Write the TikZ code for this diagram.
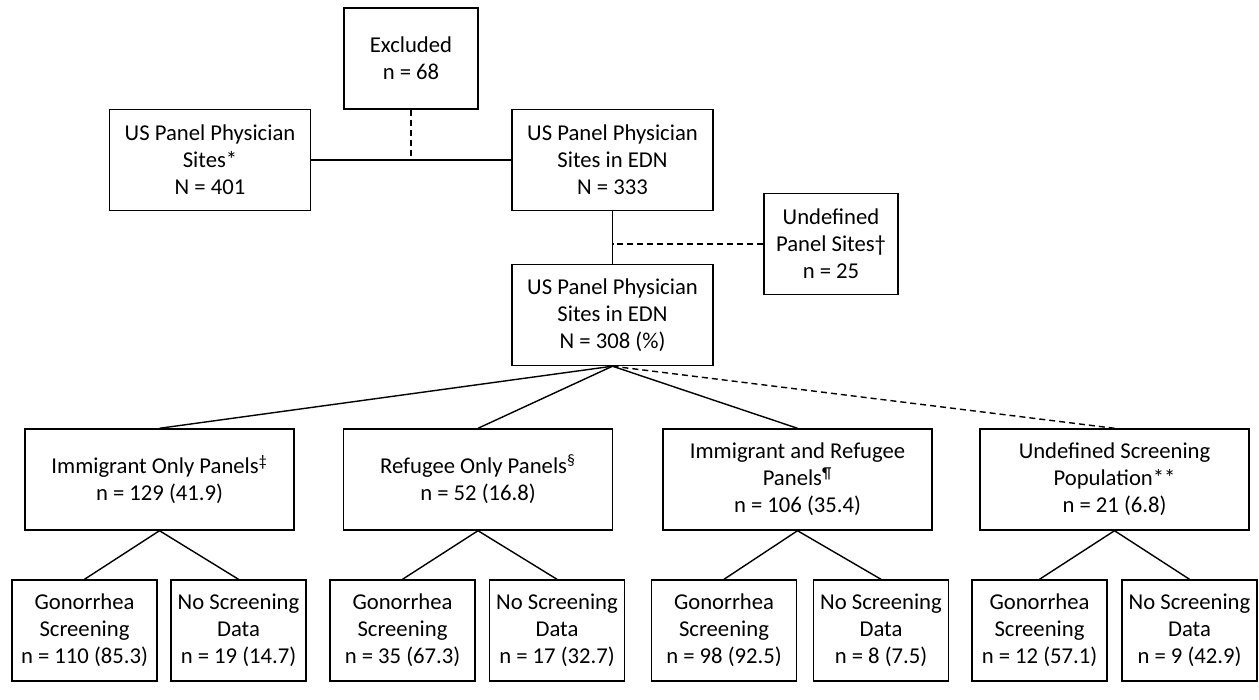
\documentclass[tikz,border=0pt]{standalone}
\usepackage{fontspec}
\setmainfont{Carlito}
\usetikzlibrary{calc}

\begin{document}
\begin{tikzpicture}[x=0.2mm,y=-0.2mm]
  % Estilos para las cajas y las lineas
    \tikzstyle{box} = [draw, line width=0.8pt, align=center, inner sep=2pt, minimum height=20.2mm, font=\fontsize{12.9pt}{15.4pt}\selectfont];
  \tikzstyle{topbox} = [box, minimum width=40.2mm];
  \tikzstyle{sidebox} = [box, minimum width=26.8mm];
  \tikzstyle{groupbox} = [box, minimum width=53.8mm];
  \tikzstyle{leafwide} = [box, minimum width=29mm];
  \tikzstyle{leafnarrow} = [box, minimum width=27mm];
  \tikzstyle{link} = [line width=0.8pt];
  \tikzstyle{droplink} = [line width=0.8pt, dash pattern=on 1.2mm off 0.8mm];

  \useasboundingbox (0,0) rectangle (1259,700);

  % Cajas de arriba
    \node [sidebox] (excl) at (411,58.5) {Excluded\\n = 68};
  \node [topbox] (sites) at (210,160) {US Panel Physician\\Sites*\\N = 401};
  \node [topbox] (edn) at (612.5,160) {US Panel Physician\\Sites in EDN\\N = 333};
  \node [sidebox] (undef) at (831,244) {Undefined\\Panel Sites†\\n = 25};
  \node [topbox] (ednall) at (612.5,315) {US Panel Physician\\Sites in EDN\\N = 308 (\%)};

  % Grupos de paneles
    \node [groupbox] (immig) at (159.5,479.5) {Immigrant Only Panels\textsuperscript{‡}\\n = 129 (41.9)};
  \node [groupbox] (refug) at (478,479.5) {Refugee Only Panels\textsuperscript{§}\\n = 52 (16.8)};
  \node [groupbox] (both) at (797.5,479.5) {Immigrant and Refugee\\Panels\textsuperscript{¶}\\n = 106 (35.4)};
  \node [groupbox] (unscr) at (1114.5,479.5) {Undefined Screening\\Population**\\n = 21 (6.8)};

  % Cajas de cribado
    \node [leafwide] (immigG) at (84.5,630.5) {Gonorrhea\\Screening\\n = 110 (85.3)};
  \node [leafnarrow] (immigN) at (238.5,630.5) {No Screening\\Data\\n = 19 (14.7)};
  \node [leafwide] (refugG) at (402.5,630.5) {Gonorrhea\\Screening\\n = 35 (67.3)};
  \node [leafnarrow] (refugN) at (557,630.5) {No Screening\\Data\\n = 17 (32.7)};
  \node [leafwide] (bothG) at (724,630.5) {Gonorrhea\\Screening\\n = 98 (92.5)};
  \node [leafnarrow] (bothN) at (881,630.5) {No Screening\\Data\\n = 8 (7.5)};
  \node [leafnarrow] (unscrG) at (1039.5,630.5) {Gonorrhea\\Screening\\n = 12 (57.1)};
  \node [leafnarrow] (unscrN) at (1189.5,630.5) {No Screening\\Data\\n = 9 (42.9)};

  % Conexiones
    \draw [link] (sites.east) -- (edn.west);
  \draw [droplink] (excl.south) -- (excl.south |- sites.east);
  \draw [link] (edn.south) -- (ednall.north);
  \draw [droplink] (undef.west) -- (undef.west -| edn.south);
  \draw [link] (ednall.south) -- (immig.north);
  \draw [link] (ednall.south) -- (refug.north);
  \draw [link] (ednall.south) -- (both.north);
  \draw [droplink] (ednall.south) -- (unscr.north);
  \draw [link] (immigG.north) -- (immig.south) -- (immigN.north);
  \draw [link] (refugG.north) -- (refug.south) -- (refugN.north);
  \draw [link] (bothG.north) -- (both.south) -- (bothN.north);
  \draw [link] (unscrG.north) -- (unscr.south) -- (unscrN.north);
  \end{tikzpicture}
\end{document}
